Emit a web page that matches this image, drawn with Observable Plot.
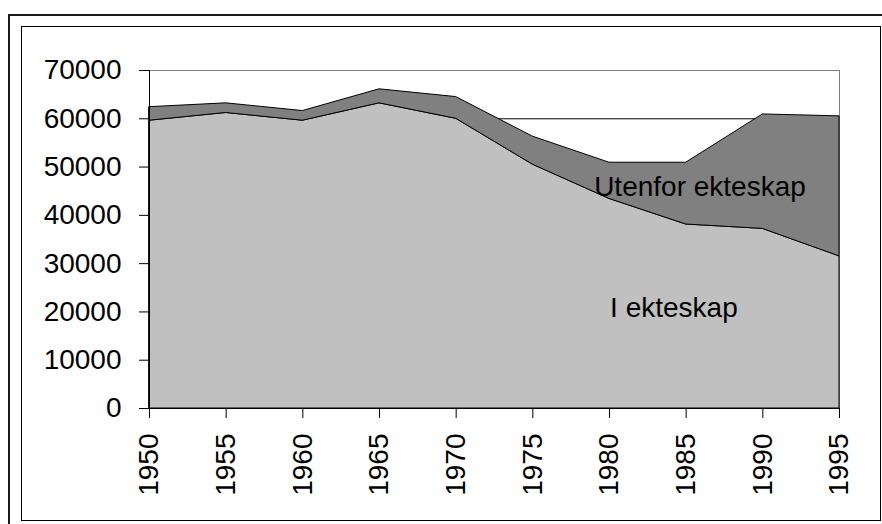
<!DOCTYPE html>
<html>
<head>
<meta charset="utf-8">
<script src="https://cdn.jsdelivr.net/npm/d3@7"></script>
<script src="https://cdn.jsdelivr.net/npm/@observablehq/plot@0.6"></script>
<style>
  html, body { margin: 0; padding: 0; background: #fff; }
  #wrap { position: relative; width: 882px; height: 524px; overflow: hidden; }
  .outer { position: absolute; left: 8px; top: 14px; width: 1000px; height: 1000px;
           border-left: 2px solid #1a1a1a; border-top: 2px solid #1a1a1a; box-sizing: border-box; }
  .inner { position: absolute; left: 21px; top: 26px; width: 860px; height: 495px;
           border: 1px solid #000; box-sizing: border-box; }
  #chart { position: absolute; left: 0; top: 0; }
  #chart svg { background: transparent !important; }
</style>
</head>
<body>
<div id="wrap">
  <div class="outer"></div>
  <div class="inner"></div>
  <div id="chart"></div>
</div>
<script>
// Years (x categories)
const years = [1950, 1955, 1960, 1965, 1970, 1975, 1980, 1985, 1990, 1995];
// Series names
const seriesNames = ["I ekteskap", "Utenfor ekteskap"];
// Births within marriage
const iEkteskap = [59600, 61200, 59600, 63200, 60000, 50500, 43400, 38100, 37200, 31500];
// Births outside marriage
const utenforEkteskap = [2800, 2000, 2000, 2900, 4500, 5800, 7500, 12800, 23700, 29000];
// Y tick values
const yTicks = [0, 10000, 20000, 30000, 40000, 50000, 60000, 70000];
const gridTicks = [10000, 20000, 30000, 40000, 50000, 60000];

const data = [];
years.forEach((yr, i) => data.push({ year: yr, series: seriesNames[0], value: iEkteskap[i] }));
years.forEach((yr, i) => data.push({ year: yr, series: seriesNames[1], value: utenforEkteskap[i] }));

const font = "'Liberation Sans', Arial, sans-serif";

const chart = Plot.plot({
  width: 882,
  height: 524,
  marginLeft: 149,
  marginRight: 43,
  marginTop: 70,
  marginBottom: 116,
  style: { fontFamily: font, color: "#000", background: "transparent" },
  x: { domain: [1950, 1995] },
  y: { domain: [0, 70000] },
  color: { domain: seriesNames, range: ["#c0c0c0", "#808080"] },
  marks: [
    Plot.frame({ stroke: "#808080" }),
    Plot.gridY(gridTicks, { stroke: "#000", strokeOpacity: 1 }),
    Plot.areaY(data, { x: "year", y: "value", z: "series", fill: "series", stroke: "#000", strokeWidth: 1, strokeLinejoin: "miter" }),
    Plot.ruleY([0], { stroke: "#000" }),
    Plot.ruleX([1950], { stroke: "#000" }),
    Plot.axisY({ ticks: yTicks, tickFormat: d3.format("d"), tickSize: 10, tickPadding: 18, fontSize: 28, label: null }),
    Plot.axisX({ ticks: years, tickFormat: d => String(d), tickSize: 10, tickPadding: 15, tickRotate: -90, fontSize: 28, label: null }),
    Plot.text([seriesNames[1]], { x: 1985.9, y: 45800, text: d => d, fontSize: 28, fill: "#000" }),
    Plot.text([seriesNames[0]], { x: 1984.2, y: 20900, text: d => d, fontSize: 28, fill: "#000" })
  ]
});
document.getElementById("chart").appendChild(chart);
</script>
</body>
</html>
